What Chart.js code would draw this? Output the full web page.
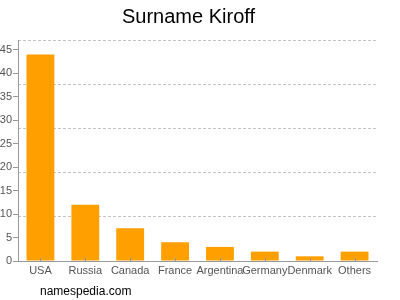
<!DOCTYPE html>
<html>
<head>
<meta charset="utf-8">
<script src="https://cdn.jsdelivr.net/npm/chart.js@4/dist/chart.umd.min.js"></script>
<style>
  html, body { margin: 0; padding: 0; background: #fff; }
  #wrap { position: relative; width: 400px; height: 300px; }
  #mark { position: absolute; left: 40px; top: 284px; font: 12px "Liberation Sans", Arial, sans-serif; color: #000; }
</style>
</head>
<body>
<div id="wrap">
  <canvas id="c" width="400" height="300"></canvas>
  <div id="mark">namespedia.com</div>
</div>
<script>
const categories = ["USA", "Russia", "Canada", "France", "Argentina", "Germany", "Denmark", "Others"];
const counts = [44, 12, 7, 4, 3, 2, 1, 2];
const yTickValues = [0, 5, 10, 15, 20, 25, 30, 35, 40, 45];
const yMax = 47.1;
const gridDivisions = 5;

const FONT = '"Liberation Sans", Arial, sans-serif';

const innerTicks = {
  id: 'innerTicks',
  afterDraw(chart) {
    const x = chart.scales.x;
    const ctx = chart.ctx;
    ctx.save();
    ctx.strokeStyle = '#999';
    ctx.lineWidth = 1;
    ctx.beginPath();
    for (let i = 0; i < x.ticks.length; i++) {
      const px = Math.round(x.getPixelForTick(i)) + 0.5;
      ctx.moveTo(px, x.top);
      ctx.lineTo(px, x.top - 3);
    }
    ctx.stroke();
    ctx.restore();
  }
};

new Chart(document.getElementById('c'), {
  type: 'bar',
  data: {
    labels: categories,
    datasets: [{
      data: counts,
      backgroundColor: '#ffa000',
      borderWidth: 0,
      barPercentage: 0.62,
      categoryPercentage: 1.0
    }]
  },
  plugins: [innerTicks],
  options: {
    responsive: false,
    animation: false,
    layout: { padding: { left: 0, right: 23, top: 0, bottom: 0 } },
    plugins: {
      legend: { display: false },
      tooltip: { enabled: false },
      title: {
        display: true,
        text: 'Surname Kiroff',
        color: '#000',
        font: { family: FONT, size: 20, weight: 'normal' },
        padding: { top: 5, bottom: 11 }
      }
    },
    scales: {
      x: {
        grid: { display: false, drawTicks: false },
        border: { display: true, color: '#999', width: 1 },
        ticks: {
          color: '#555',
          font: { family: FONT, size: 11 },
          padding: 3,
          autoSkip: false,
          maxRotation: 0,
          minRotation: 0
        },
        afterFit: (s) => { s.height = 39; }
      },
      y: {
        position: 'left',
        weight: 1,
        min: 0,
        max: yMax,
        grid: { drawOnChartArea: false, drawTicks: true, tickLength: 5, color: '#999' },
        border: { display: true, color: '#999', width: 1 },
        ticks: {
          color: '#555',
          font: { family: FONT, size: 11 },
          padding: 1
        },
        afterBuildTicks: (s) => { s.ticks = yTickValues.map(v => ({ value: v })); },
        afterFit: (s) => { s.width = 18; }
      },
      y2: {
        position: 'left',
        weight: 0,
        min: 0,
        max: yMax,
        ticks: { display: false, count: gridDivisions + 1 },
        grid: { drawTicks: false, color: '#c4c4c4', lineWidth: 1 },
        border: { display: false, dash: [3, 2] },
        afterFit: (s) => { s.width = 0; }
      }
    }
  }
});
</script>
</body>
</html>
